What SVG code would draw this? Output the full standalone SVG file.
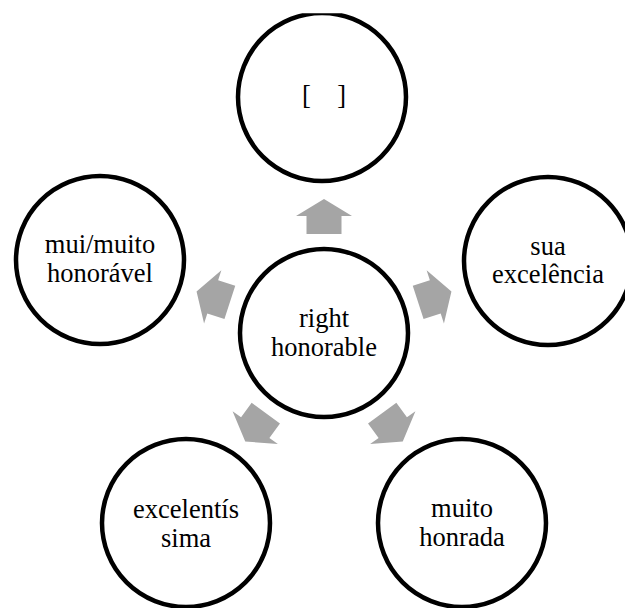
<svg xmlns="http://www.w3.org/2000/svg" width="625" height="608" viewBox="0 0 625 608">
<style>
.node circle{fill:#fff;stroke:#000;stroke-width:4.5}
.node text{font-family:"Liberation Serif","Times New Roman",serif;font-size:26.5px;fill:#000;text-anchor:middle}
.arr{fill:#a5a5a5}
</style>
<defs>
<path id="ar" class="arr" d="M324,199 L352,216 L341.5,216 L341.5,234 L306.5,234 L306.5,216 L296,216 Z"/>
<clipPath id="topclip"><rect x="0" y="13.3" width="625" height="600"/></clipPath>
</defs>
<rect width="625" height="608" fill="#fff"/>
<g id="connectors">
<use href="#ar"/>
<use href="#ar" transform="rotate(72 324 333)"/>
<use href="#ar" transform="rotate(144 324 333)"/>
<use href="#ar" transform="rotate(216 324 333)"/>
<use href="#ar" transform="rotate(288 324 333)"/>
</g>
<g id="center" class="node"><circle cx="324" cy="333" r="84"/><text x="324" y="327">right</text><text x="324" y="356">honorable</text></g>
<g id="top" class="node"><circle cx="322" cy="97" r="84" clip-path="url(#topclip)"/><text x="324" y="104" xml:space="preserve">[    ]</text></g>
<g id="right" class="node"><circle cx="548" cy="261" r="84"/><text x="548" y="255">sua</text><text x="548" y="283">excelência</text></g>
<g id="bottomright" class="node"><circle cx="462" cy="523" r="84"/><text x="462" y="517">muito</text><text x="462" y="546">honrada</text></g>
<g id="bottomleft" class="node"><circle cx="186" cy="523" r="84"/><text x="186" y="518">excelentís</text><text x="186" y="547">sima</text></g>
<g id="left" class="node"><circle cx="100" cy="260" r="84"/><text x="100" y="253">mui/muito</text><text x="100" y="282">honorável</text></g>
</svg>
